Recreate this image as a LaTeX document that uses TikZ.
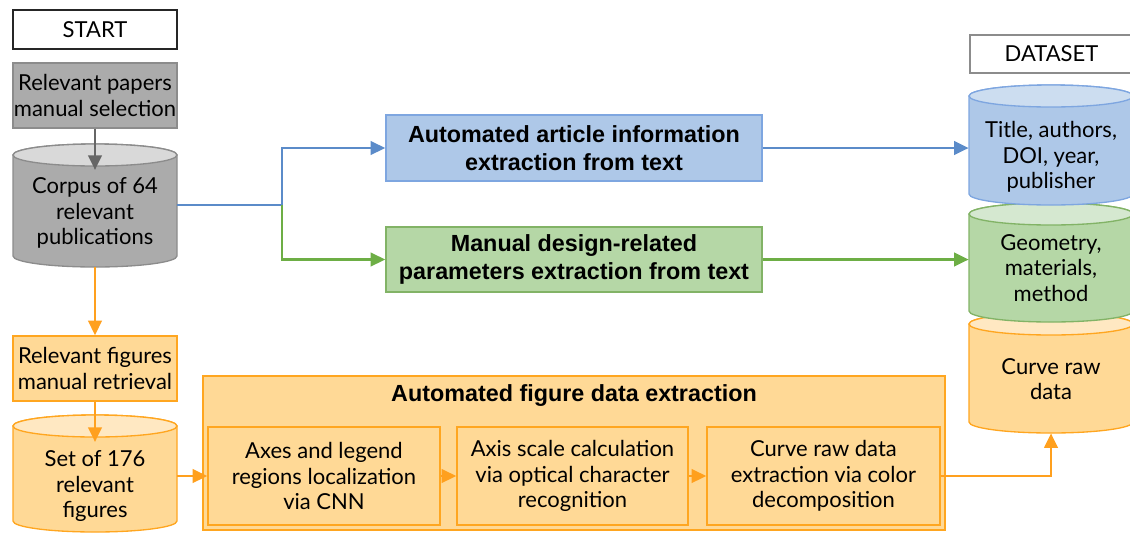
\documentclass[tikz,border=0pt]{standalone}
\usepackage{fontspec}
\setmainfont{Lato}
\newfontfamily\arialf{Liberation Sans}
\usetikzlibrary{arrows.meta,fit}
\definecolor{graybody}{HTML}{ABABAB}
\definecolor{graytop}{HTML}{D9D9D9}
\definecolor{grayline}{HTML}{8C8C8C}
\definecolor{grayarrow}{HTML}{666666}
\definecolor{bluebody}{HTML}{AEC8E8}
\definecolor{bluetop}{HTML}{CCDDF0}
\definecolor{blueline}{HTML}{7EA6E0}
\definecolor{bluearrow}{HTML}{5B8BC9}
\definecolor{greenbody}{HTML}{B5D7A6}
\definecolor{greentop}{HTML}{D5E8D0}
\definecolor{greenline}{HTML}{82B366}
\definecolor{greenarrow}{HTML}{6DAE45}
\definecolor{orangebody}{HTML}{FFD996}
\definecolor{orangetop}{HTML}{FFE8C2}
\definecolor{orangeline}{HTML}{FFA620}
\definecolor{orangearrow}{HTML}{FFA01E}
\tikzset{
  txt/.style={align=center,font=\fontsize{16.5}{19.2}\selectfont,inner sep=0pt},
  boldtxt/.style={align=center,font=\arialf\bfseries\fontsize{17.5}{21}\selectfont,inner sep=0pt},
  box/.style={draw,line width=1pt,inner sep=0pt},
  conn/.style={line width=2.2pt,-{Triangle[length=11pt,width=10pt]}},
}
\newcommand\cyl[8]{%
  \filldraw[fill=#6body,draw=#6line,line width=1pt]
    (#2,-#4-11) -- (#2,-#5+11)
    arc[start angle=180,end angle=360,x radius={(#3-#2)/2},y radius=11]
    -- (#3,-#4-11)
    arc[start angle=0,end angle=180,x radius={(#3-#2)/2},y radius=11] -- cycle;
  \filldraw[fill=#6top,draw=#6line,line width=1pt]
    ({(#2+#3)/2},-#4-11) ellipse[x radius={(#3-#2)/2},y radius=11];
  \coordinate (#1-nw) at (#2,-#4);
  \coordinate (#1-se) at (#3,-#5);
  \node[fit=(#1-nw)(#1-se),inner sep=0pt] (#1) {};
  \node[txt] (#1-t) at ({(#2+#3)/2},-#7) {#8};
}
\begin{document}
\begin{tikzpicture}[x=0.75pt,y=0.75pt]
\useasboundingbox (0,0) rectangle (1130,-533);

% left column
\node[box,fill=white,draw=black!85,minimum width=123pt,minimum height=29.25pt,txt] (start) at (95,-29.5) {START};
\node[box,fill=graybody,draw=grayline,minimum width=123pt,minimum height=48.75pt,txt] (papers) at (95,-95.5) {Relevant papers\\manual selection};
\cyl{corpus}{13}{177}{144}{267}{gray}{213}{Corpus of 64\\relevant\\publications}
\node[box,fill=orangebody,draw=orangeline,minimum width=123pt,minimum height=48.75pt,txt] (figs) at (95,-368.5) {Relevant figures\\manual retrieval};
\cyl{set}{13}{177}{415}{532}{orange}{486}{Set of 176\\relevant\\figures}

% middle boxes
\node[box,fill=bluebody,draw=blueline,minimum width=282pt,minimum height=49.5pt,boldtxt] (blue) at (574,-148) {Automated article information\\extraction from text};
\node[box,fill=greenbody,draw=greenline,minimum width=282pt,minimum height=48.75pt,boldtxt] (green) at (574,-259.5) {Manual design-related\\parameters extraction from text};

% figure extraction
\node[box,fill=orangebody,draw=orangeline,minimum width=556.5pt,minimum height=115.5pt] (big) at (574,-453) {};
\node[boldtxt] (bigt) at (574,-396) {Automated figure data extraction};
\node[box,fill=orangebody,draw=orangeline,minimum width=174pt,minimum height=73.5pt,txt] (in1) at (324,-476) {Axes and legend\\regions localization\\via CNN};
\node[box,fill=orangebody,draw=orangeline,minimum width=173.25pt,minimum height=73.5pt,txt] (in2) at (572.5,-476) {Axis scale calculation\\via optical character\\recognition};
\node[box,fill=orangebody,draw=orangeline,minimum width=174.75pt,minimum height=73.5pt,txt] (in3) at (823.5,-476) {Curve raw data\\extraction via color\\decomposition};

% dataset
\node[box,fill=white,draw=grayline,minimum width=122.25pt,minimum height=28.5pt,txt] (dataset) at (1051.5,-54) {DATASET};
\cyl{ocyl}{969}{1133}{313}{433}{orange}{379}{Curve raw\\data}
\cyl{gcyl}{969}{1133}{203}{322}{green}{268}{Geometry,\\materials,\\method}
\cyl{bcyl}{969}{1133}{85}{205}{blue}{157}{Title, authors,\\DOI, year,\\publisher}

% connectors
\coordinate (split) at (282,-205);
\draw[conn,grayarrow] (papers.south) -- (95,-170);
\draw[line width=2.2pt,bluearrow] (corpus.east |- split) -- (split);
\draw[conn,bluearrow] (split) |- (blue.west);
\draw[conn,greenarrow] (split) |- (green.west);
\draw[conn,bluearrow] (blue.east) -- (blue.east -| bcyl.west);
\draw[conn,greenarrow] (green.east) -- (green.east -| gcyl.west);
\draw[conn,orangearrow] (corpus.south) -- (figs.north);
\draw[conn,orangearrow] (figs.south) -- (95,-442);
\draw[conn,orangearrow] (in1.west -| set.east) -- (in1.west);
\draw[conn,orangearrow] (in1.east) -- (in2.west);
\draw[conn,orangearrow] (in2.east) -- (in3.west);
\draw[conn,orangearrow] (in3.east) -| (ocyl.south);
\end{tikzpicture}
\end{document}
